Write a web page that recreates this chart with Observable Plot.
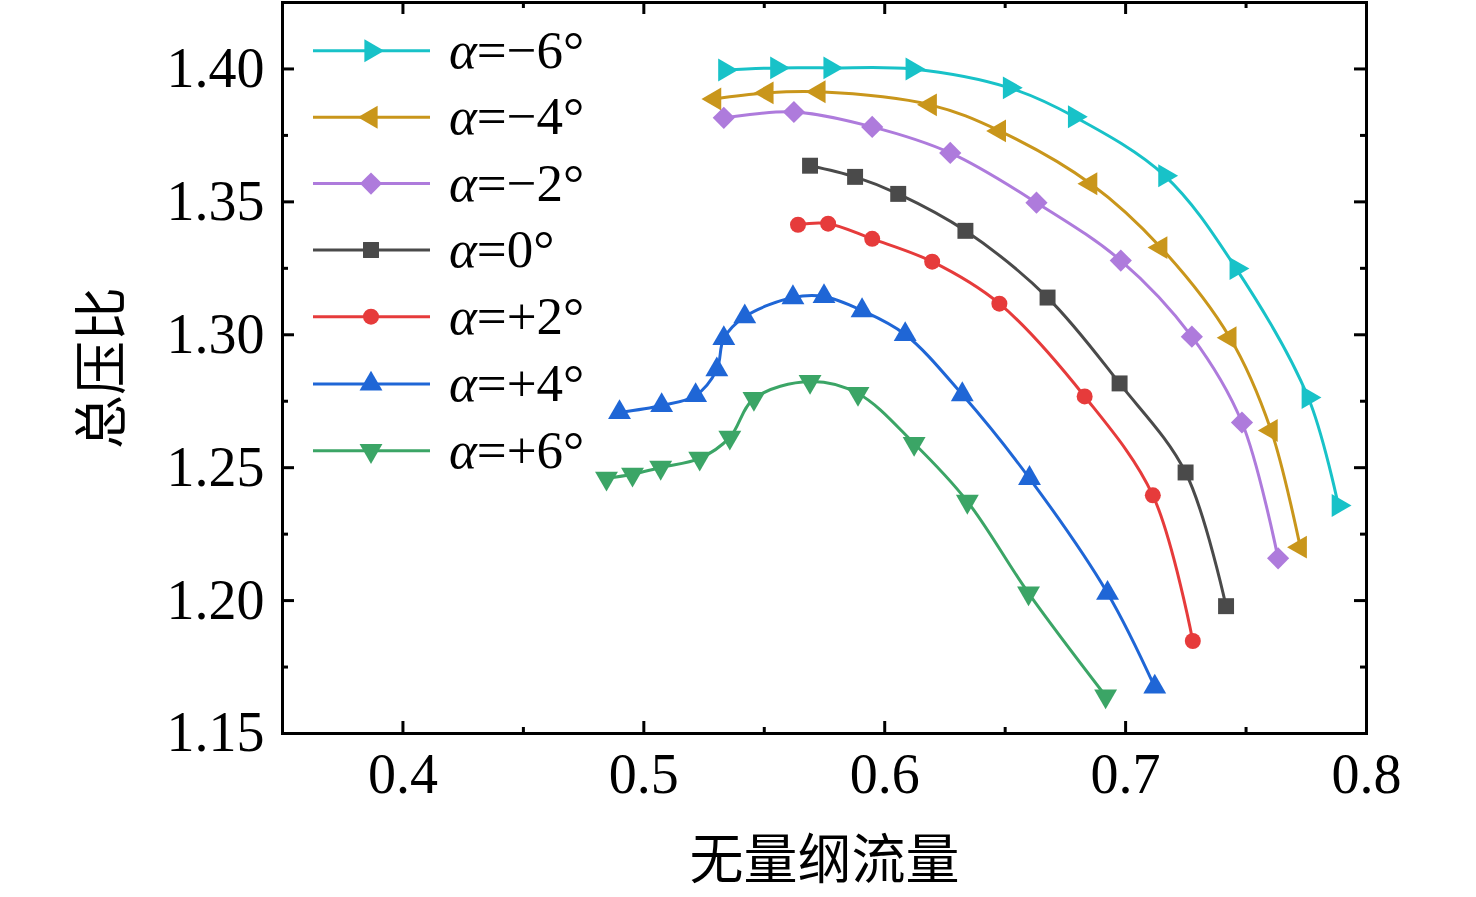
<!DOCTYPE html>
<html>
<head>
<meta charset="utf-8">
<script src="https://cdn.jsdelivr.net/npm/d3@7"></script>
<script src="https://cdn.jsdelivr.net/npm/@observablehq/plot@0.6"></script>
<style>
  html, body { margin: 0; padding: 0; background: #fff; }
  #wrap { position: relative; width: 1476px; height: 897px; overflow: hidden; }
  #legend { position: absolute; left: 0; top: 0; width: 1476px; height: 897px; pointer-events: none; }
</style>
</head>
<body>
<div id="wrap"></div>
<script>
// ---- data ----
const seriesNames = ["α=−6°", "α=−4°", "α=−2°", "α=0°", "α=+2°", "α=+4°", "α=+6°"];

const xM6 = [0.5336, 0.5552, 0.5773, 0.6114, 0.6518, 0.6788, 0.7163, 0.7459, 0.7758, 0.7883];
const yM6 = [1.3996, 1.4004, 1.4004, 1.4000, 1.3929, 1.3820, 1.3598, 1.3249, 1.2764, 1.2358];

const xM4 = [0.5294, 0.5511, 0.5727, 0.6189, 0.6476, 0.6855, 0.7146, 0.7433, 0.7604, 0.7725];
const yM4 = [1.3887, 1.3910, 1.3914, 1.3865, 1.3767, 1.3568, 1.3328, 1.2989, 1.2640, 1.2201];

const xM2 = [0.5332, 0.5623, 0.5948, 0.6272, 0.6630, 0.6980, 0.7275, 0.7483, 0.7633];
const yM2 = [1.3816, 1.3838, 1.3782, 1.3684, 1.3497, 1.3279, 1.2993, 1.2670, 1.2159];

const x0 = [0.5690, 0.5877, 0.6056, 0.6335, 0.6676, 0.6975, 0.7249, 0.7417];
const y0 = [1.3636, 1.3594, 1.3530, 1.3391, 1.3140, 1.2817, 1.2482, 1.1979];

const xP2 = [0.5640, 0.5765, 0.5948, 0.6197, 0.6476, 0.6830, 0.7113, 0.7279];
const yP2 = [1.3414, 1.3418, 1.3361, 1.3275, 1.3117, 1.2768, 1.2396, 1.1848];

const xP4 = [0.4899, 0.5074, 0.5215, 0.5303, 0.5332, 0.5419, 0.5619, 0.5748, 0.5906, 0.6085, 0.6322, 0.6601, 0.6925, 0.7121];
const yP4 = [1.2708, 1.2734, 1.2772, 1.2869, 1.2986, 1.3068, 1.3140, 1.3144, 1.3091, 1.3001, 1.2775, 1.2460, 1.2028, 1.1675];

const xP6 = [0.4845, 0.4953, 0.5070, 0.5232, 0.5357, 0.5457, 0.5690, 0.5889, 0.6122, 0.6343, 0.6597, 0.6917];
const yP6 = [1.2460, 1.2475, 1.2501, 1.2535, 1.2614, 1.2760, 1.2824, 1.2779, 1.2591, 1.2373, 1.2028, 1.1641];

const seriesColors = ["#18c2c8", "#c9961b", "#ae7bdc", "#4a4a4a", "#e63b3b", "#1f66d6", "#3ba566"];
const seriesSymbols = ["triangle", "triangle", "diamond2", "square", "circle", "triangle", "triangle"];
const seriesRotate = [90, -90, 0, 0, 0, 0, 180];
const seriesR = [8.5, 8.5, 10, 9, 8, 8.5, 8.5];

const xMajor = [0.4, 0.5, 0.6, 0.7, 0.8];
const xMinor = [0.45, 0.55, 0.65, 0.75];
const yMajor = [1.15, 1.20, 1.25, 1.30, 1.35, 1.40];
const yMinor = [1.175, 1.225, 1.275, 1.325, 1.375];
const xDomain = [0.35, 0.8];
const yDomain = [1.15, 1.425];

const xs = [xM6, xM4, xM2, x0, xP2, xP4, xP6];
const ys = [yM6, yM4, yM2, y0, yP2, yP4, yP6];

// ---- build table ----
const rows = [];
xs.forEach((xa, i) => xa.forEach((xv, j) => rows.push({s: seriesNames[i], k: i, x: xv, y: ys[i][j]})));

const W = 1476, H = 897;
const mL = 282, mR = 110, mT = 2, mB = 164;
const plotH = H - mT - mB;
const plotW = W - mL - mR;
const majorLen = 12, minorLen = 6;
const serif = "'Liberation Serif', 'DejaVu Serif', 'Times New Roman', serif";

const marks = [];
for (let i = 0; i < seriesNames.length; i++) {
  const d = rows.filter(r => r.k === i);
  marks.push(Plot.line(d, {x: "x", y: "y", stroke: seriesColors[i], strokeWidth: 3, curve: "catmull-rom"}));
}
for (let i = 0; i < seriesNames.length; i++) {
  const d = rows.filter(r => r.k === i);
  marks.push(Plot.dot(d, {x: "x", y: "y", symbol: seriesSymbols[i], r: seriesR[i], rotate: seriesRotate[i], fill: seriesColors[i], stroke: "none"}));
}
// inward ticks: bottom & top
marks.push(Plot.tickX(xMajor, {x: d => d, insetTop: plotH - majorLen, stroke: "#000", strokeWidth: 3}));
marks.push(Plot.tickX(xMinor, {x: d => d, insetTop: plotH - minorLen, stroke: "#000", strokeWidth: 3}));
marks.push(Plot.tickX(xMajor, {x: d => d, insetBottom: plotH - majorLen, stroke: "#000", strokeWidth: 3}));
marks.push(Plot.tickX(xMinor, {x: d => d, insetBottom: plotH - minorLen, stroke: "#000", strokeWidth: 3}));
// inward ticks: left & right
marks.push(Plot.tickY(yMajor, {y: d => d, insetRight: plotW - majorLen, stroke: "#000", strokeWidth: 3}));
marks.push(Plot.tickY(yMinor, {y: d => d, insetRight: plotW - minorLen, stroke: "#000", strokeWidth: 3}));
marks.push(Plot.tickY(yMajor, {y: d => d, insetLeft: plotW - majorLen, stroke: "#000", strokeWidth: 3}));
marks.push(Plot.tickY(yMinor, {y: d => d, insetLeft: plotW - minorLen, stroke: "#000", strokeWidth: 3}));
// axes (labels only)
marks.push(Plot.axisX(xMajor, {tickSize: 0, tickPadding: 20, tickFormat: d3.format(".1f"), fontSize: 56, fontFamily: serif,
  label: "无量纲流量", labelAnchor: "center", labelArrow: "none", labelOffset: 145}));
marks.push(Plot.axisY(yMajor, {tickSize: 0, tickPadding: 18, tickFormat: d3.format(".2f"), fontSize: 56, fontFamily: serif,
  label: "总压比", labelAnchor: "center", labelArrow: "none", labelOffset: 200}));
marks.push(Plot.frame({stroke: "#000", strokeWidth: 3}));

const chart = Plot.plot({
  width: W, height: H,
  marginLeft: mL, marginRight: mR, marginTop: mT, marginBottom: mB,
  x: {domain: xDomain},
  y: {domain: yDomain},
  style: {fontFamily: serif, color: "#000", background: "#fff"},
  marks
});
document.getElementById("wrap").append(chart);

// Chinese axis titles
d3.select(chart).selectAll("g[aria-label='x-axis label'] text, g[aria-label='y-axis label'] text")
  .style("font-family", "'Noto Sans CJK SC', sans-serif").style("font-size", "54px");

// ---- legend (SVG overlay, positioned in page pixels) ----
const leg = d3.select("#wrap").append("svg").attr("id", "legend")
  .attr("width", W).attr("height", H);
const rowCenters = [50.7, 117.3, 183.6, 250, 316.7, 384, 450.7];
seriesNames.forEach((name, i) => {
  const g = leg.append("g").attr("transform", `translate(313,${rowCenters[i]})`);
  g.append("line").attr("x1", 0).attr("x2", 117).attr("y1", 0).attr("y2", 0)
    .attr("stroke", seriesColors[i]).attr("stroke-width", 3);
  const sym = {triangle: d3.symbolTriangle, diamond2: d3.symbolDiamond2, square: d3.symbolSquare, circle: d3.symbolCircle}[seriesSymbols[i]];
  g.append("path").attr("d", d3.symbol(sym, Math.PI * seriesR[i] * seriesR[i])())
    .attr("transform", `translate(58,0) rotate(${seriesRotate[i]})`).attr("fill", seriesColors[i]);
  const t = g.append("text").attr("x", 136).attr("y", 0).attr("dy", "0.32em")
    .attr("font-family", serif).attr("font-size", 53).attr("fill", "#000");
  t.append("tspan").attr("font-style", "italic").text(name.slice(0, 1));
  t.append("tspan").text(name.slice(1));
});
</script>
</body>
</html>
